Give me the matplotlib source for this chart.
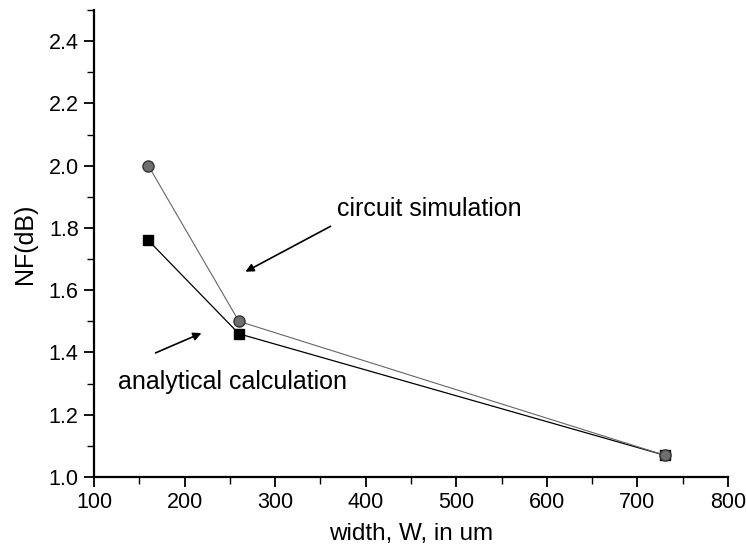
import matplotlib
matplotlib.use("Agg")
import matplotlib.pyplot as plt
from matplotlib.ticker import MultipleLocator, FormatStrFormatter

plt.rcParams['font.family'] = ['Liberation Sans', 'DejaVu Sans']

width = [160, 260, 730]
nf_circuit = [2.00, 1.50, 1.07]
nf_analytical = [1.76, 1.46, 1.07]

fig = plt.figure(figsize=(7.46, 5.48), dpi=100)
ax = fig.add_axes([94/746, 1 - 477/548, (728-94)/746, (477-10)/548])

ax.plot(width, nf_circuit, color='#666666', lw=0.8, marker='o', ms=8,
        mfc='#6e6e6e', mec='#333333', mew=1.0, zorder=3)
ax.plot(width, nf_analytical, color='black', lw=0.9, marker='s', ms=7.5,
        mfc='black', mec='black', zorder=2)

ax.set_xlim(100, 800)
ax.set_ylim(1.0, 2.5)
ax.xaxis.set_major_locator(MultipleLocator(100))
ax.xaxis.set_minor_locator(MultipleLocator(50))
ax.yaxis.set_major_locator(MultipleLocator(0.2))
ax.yaxis.set_minor_locator(MultipleLocator(0.1))
ax.yaxis.set_major_formatter(FormatStrFormatter('%.1f'))

for s in ['top', 'right']:
    ax.spines[s].set_visible(False)
for s in ['left', 'bottom']:
    ax.spines[s].set_linewidth(1.6)

ax.tick_params(which='major', direction='out', length=7, width=1.3, labelsize=15.5, pad=4)
ax.tick_params(which='minor', direction='out', length=5, width=1.0)

ax.set_xlabel('width, W, in um', fontsize=17.5, labelpad=7)
ax.set_ylabel('NF(dB)', fontsize=18, labelpad=8)


def px2data(px, py):
    inv = ax.transData.inverted()
    return inv.transform((px, 548 - py))


fig.canvas.draw()
a1 = px2data(243, 273); s1 = px2data(333, 225)
a2 = px2data(204, 332); s2 = px2data(153, 354)
ax.annotate('', xy=a1, xytext=s1,
            arrowprops=dict(arrowstyle='-|>', color='black', lw=1.2, mutation_scale=12))
ax.annotate('', xy=a2, xytext=s2,
            arrowprops=dict(arrowstyle='-|>', color='black', lw=1.2, mutation_scale=12))
t1 = px2data(337, 209)
t2 = px2data(118, 382)
ax.text(t1[0], t1[1], 'circuit simulation', fontsize=18, ha='left', va='center')
ax.text(t2[0], t2[1], 'analytical calculation', fontsize=18, ha='left', va='center')

fig.savefig('out.png', dpi=100)
